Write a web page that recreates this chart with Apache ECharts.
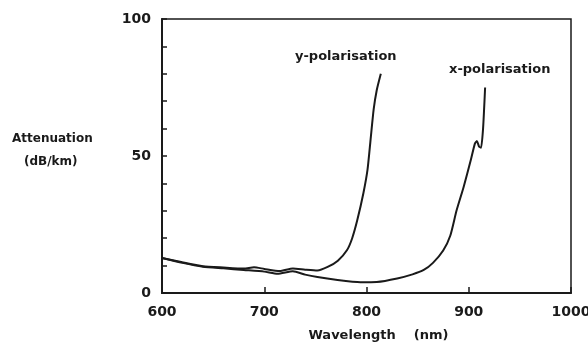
<!DOCTYPE html>
<html>
<head>
<meta charset="utf-8">
<script src="https://cdn.jsdelivr.net/npm/echarts@6/dist/echarts.min.js"></script>
<style>
html,body{margin:0;padding:0;background:#fff;}
#chart{width:588px;height:342px;}
</style>
</head>
<body>
<div id="chart"></div>
<script>
// y-polarisation
var yWave = [600, 620, 640, 660, 680, 690, 700, 715, 728, 740, 752, 762, 772, 781, 786, 791, 797, 801, 804, 807, 810, 814];
var yAtt  = [12.8, 11.2, 9.8, 9.3, 8.9, 9.4, 8.8, 8.0, 8.9, 8.5, 8.2, 9.5, 11.8, 15.7, 20, 26.6, 36.5, 45, 56, 67, 74, 80];
// x-polarisation
var xWave = [600, 620, 640, 660, 680, 700, 713, 728, 740, 752, 770, 794, 810, 830, 845, 856, 865, 875, 882, 888, 895, 902, 906, 908, 910, 912, 914, 916];
var xAtt  = [12.8, 11.0, 9.6, 9.0, 8.4, 7.8, 7.0, 7.9, 6.7, 5.8, 4.8, 3.9, 4.0, 5.3, 6.8, 8.4, 11, 15.5, 21, 30, 38.7, 48.5, 54.5, 55.5, 53.5, 53, 60, 75];
var yTicks = [0, 50, 100];
var xTicks = [600, 700, 800, 900, 1000];

function pairs(a, b) {
	var out = [];
	for (var i = 0; i < a.length; i++) out.push([a[i], b[i]]);
	return out;
}

var chart = echarts.init(document.getElementById('chart'));
var font = 'DejaVu Sans';
var ink = '#1a1a1a';
var option = {
	animation: false,
	grid: { left: 162, right: 17, top: 19, bottom: 49, outerBoundsMode: 'none', show: true, borderColor: ink, borderWidth: 1.5 },
	xAxis: {
		type: 'value', min: 600, max: 1000, interval: 100,
		axisLine: { lineStyle: { color: ink, width: 2 } },
		axisTick: { inside: true, length: 6, lineStyle: { color: ink, width: 1.5 } },
		splitLine: { show: false },
		axisLabel: {
			color: ink, fontSize: 14, fontWeight: 'bold', fontFamily: font, margin: 12,
			formatter: function (v) { return xTicks.indexOf(v) >= 0 ? v : ''; }
		},
		name: 'Wavelength    (nm)', nameLocation: 'middle', nameGap: 36,
		nameTextStyle: { color: ink, fontSize: 13, fontWeight: 'bold', fontFamily: font, padding: [0, 0, 0, 24] }
	},
	yAxis: {
		type: 'value', min: 0, max: 100, interval: 10,
		axisLine: { show: true, lineStyle: { color: ink, width: 2 } },
		axisTick: { show: true, inside: true, length: 5, lineStyle: { color: ink, width: 1.5 } },
		splitLine: { show: false },
		axisLabel: {
			color: ink, fontSize: 14, fontWeight: 'bold', fontFamily: font, margin: 11,
			formatter: function (v) { return yTicks.indexOf(v) >= 0 ? v : ''; }
		}
	},
	graphic: [
		{ type: 'text', left: 12, top: 133, style: { text: 'Attenuation', fill: ink, font: 'bold 12px ' + font } },
		{ type: 'text', left: 24, top: 156, style: { text: '(dB/km)', fill: ink, font: 'bold 12px ' + font } },
		{ type: 'text', left: 295, top: 50, style: { text: 'y-polarisation', fill: ink, font: 'bold 13px ' + font } },
		{ type: 'text', left: 449, top: 63, style: { text: 'x-polarisation', fill: ink, font: 'bold 13px ' + font } }
	],
	series: [{
		name: 'y-polarisation', type: 'line', data: pairs(yWave, yAtt),
		smooth: 0.2, showSymbol: false, lineStyle: { color: ink, width: 2 }
	}, {
		name: 'x-polarisation', type: 'line', data: pairs(xWave, xAtt),
		smooth: 0.2, showSymbol: false, lineStyle: { color: ink, width: 2 }
	}]
};
chart.setOption(option);
</script>
</body>
</html>
